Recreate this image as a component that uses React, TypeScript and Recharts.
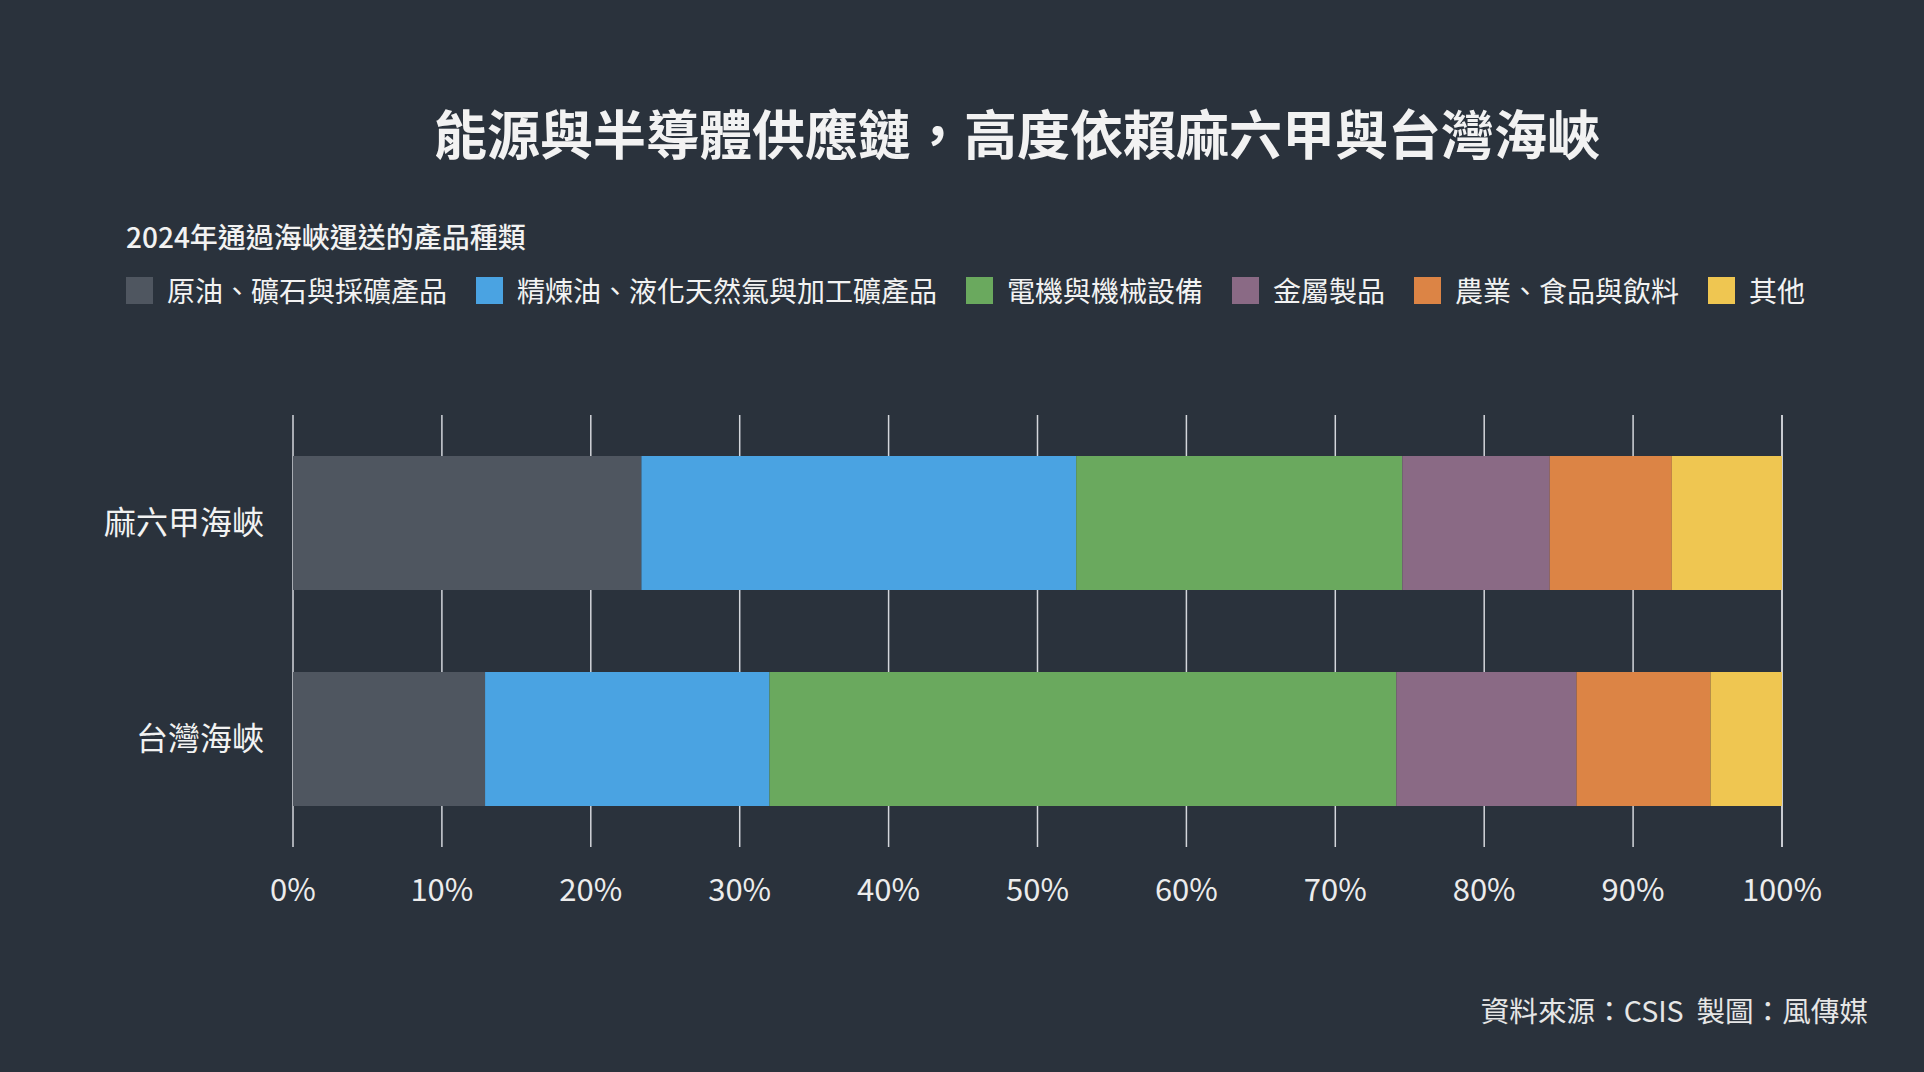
import { Bar, BarChart, CartesianGrid, XAxis, YAxis } from "recharts";

const straits = ["麻六甲海峽", "台灣海峽"];
const seriesNames = ["原油、礦石與採礦產品", "精煉油、液化天然氣與加工礦產品", "電機與機械設備", "金屬製品", "農業、食品與飲料", "其他"];
const seriesKeys = ["crude", "refined", "machinery", "metal", "agri", "other"];
const COLORS = ["#4f5660", "#4aa3e2", "#6aa95e", "#8a6a85", "#dc8445", "#efc651"];

const malacca = [23.4, 29.2, 21.9, 9.9, 8.2, 7.4];
const taiwan = [12.9, 19.1, 42.1, 12.1, 9.0, 4.8];
const xTicks = [0, 10, 20, 30, 40, 50, 60, 70, 80, 90, 100];

const FONT = '"Noto Sans CJK TC", "Noto Sans", sans-serif';
const BG = "#2a323c";

const data = [malacca, taiwan].map((vals, i) => {
    const row: any = { name: straits[i] };
    seriesKeys.forEach((k, j) => { row[k] = vals[j]; });
    return row;
});

export default function App() {
    return (
        <div style={{ position: "absolute", top: 0, left: 0, width: 1924, height: 1072, background: BG, fontFamily: FONT, color: "#f2f2f2", overflow: "hidden" }}>
            <div style={{ position: "absolute", top: 102, left: 434, fontSize: 53, fontWeight: 700, lineHeight: "60px", whiteSpace: "nowrap" }}>
                能源與半導體供應鏈，高度依賴麻六甲與台灣海峽
            </div>
            <div style={{ position: "absolute", top: 220, left: 126, fontSize: 28, fontWeight: 500, lineHeight: "32px", whiteSpace: "nowrap" }}>
                2024年通過海峽運送的產品種類
            </div>
            <div style={{ position: "absolute", top: 272, left: 126, display: "flex", alignItems: "center", height: 36, whiteSpace: "nowrap" }}>
                {seriesNames.map((n, i) => (
                    <div key={n} style={{ display: "flex", alignItems: "center", marginRight: 29 }}>
                        <div style={{ width: 27, height: 27, background: COLORS[i], marginRight: 14 }} />
                        <span style={{ fontSize: 28, lineHeight: "36px" }}>{n}</span>
                    </div>
                ))}
            </div>
            <div style={{ position: "absolute", top: 993, right: 1924 - 1868, fontSize: 28.6, lineHeight: "34px", whiteSpace: "pre", color: "#e6e6e6" }}>
                資料來源：CSIS  製圖：風傳媒
            </div>
            <div style={{ position: "absolute", top: 0, left: 0 }}>
                <BarChart width={1924} height={1072} data={data} layout="vertical" barSize={134}
                    margin={{ top: 415, right: 142, bottom: 165, left: 93 }}>
                    <CartesianGrid horizontal={false} stroke="#d3d6db" strokeWidth={1.5} />
                    <XAxis type="number" domain={[0, 100]} ticks={xTicks} tickFormatter={(v: number) => `${v}%`}
                        axisLine={false} tickLine={false} tickSize={0} tickMargin={32} height={60}
                        tick={{ fill: "#ececec", fontSize: 31, fontFamily: FONT }} interval={0} />
                    <YAxis type="category" dataKey="name" width={200} axisLine={false} tickLine={false}
                        tickSize={0} tickMargin={29} tick={{ fill: "#f2f2f2", fontSize: 32, fontFamily: FONT }} />
                    {seriesKeys.map((k, i) => (
                        <Bar key={k} dataKey={k} name={seriesNames[i]} stackId="a" fill={COLORS[i]} isAnimationActive={false} />
                    ))}
                </BarChart>
            </div>
        </div>
    );
}
